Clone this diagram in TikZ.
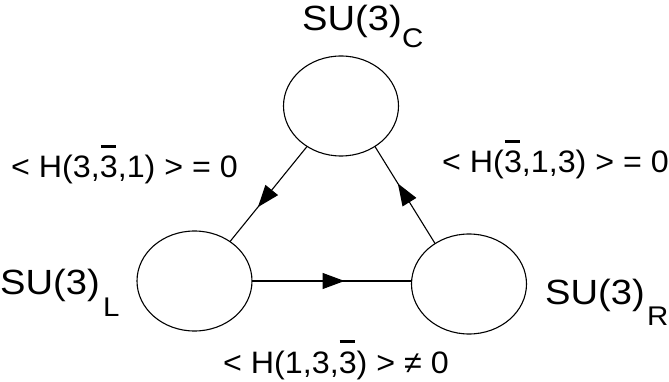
\documentclass[tikz,border=0pt]{standalone}
\usepackage{fontspec}
\setmainfont{Liberation Sans}
\newfontfamily\grpfont[FakeStretch=1.09]{Liberation Sans}
\newfontfamily\lblfont[FakeStretch=1.04]{Liberation Sans}
\usetikzlibrary{shapes.geometric,decorations.markings,arrows.meta}
\newcommand\bthree{\leavevmode\rlap{\hspace{0.03em}\rule[0.98em]{0.5em}{0.08em}}3}
\begin{document}
\begin{tikzpicture}[x=1pt,y=-1pt,
  blob/.style={ellipse,draw,line width=1.1pt,minimum width=115pt,minimum height=100pt,inner sep=0pt,outer sep=0pt},
  lbl/.style={anchor=base west,inner sep=0pt,font=\lblfont\fontsize{31}{33}\selectfont},
  grp/.style={anchor=base west,inner sep=0pt,font=\grpfont\fontsize{35}{39}\selectfont},
  subl/.style={anchor=base west,inner sep=0pt,font=\grpfont\fontsize{27}{29}\selectfont},
  conn/.style={line width=1.1pt,postaction={decorate},
    decoration={markings,mark=at position #1 with {\arrow{Triangle[length=22pt,width=16pt]}}}},
]
\useasboundingbox (0,0) rectangle (669,382);
\node[blob] (T) at (341,106) {};
\node[blob] (L) at (194.5,281) {};
\node[blob] (R) at (469,284) {};
\draw[conn=0.64] (T.-130) -- (L.48);
\draw[conn=0.62] (R.130) -- (T.-50);
\draw[conn=0.58] (L.east) -- (L.east -| R.west);
\node[grp] (tc) at (302,31) {SU(3)};
\node[subl] (tcs) at (402,48) {C};
\node[grp] (lc) at (0,294) {SU(3)};
\node[subl] (lcs) at (103,316) {L};
\node[grp] (rc) at (545,304) {SU(3)};
\node[subl] (rcs) at (647,325) {R};
\node[lbl] (l1) at (11,178) {< H(3,\bthree,1) > = 0};
\node[lbl] (l2) at (442,173) {< H(\bthree,1,3) > = 0};
\node[lbl] (l3) at (223,373) {< H(1,3,\bthree) > ≠ 0};
\end{tikzpicture}
\end{document}
